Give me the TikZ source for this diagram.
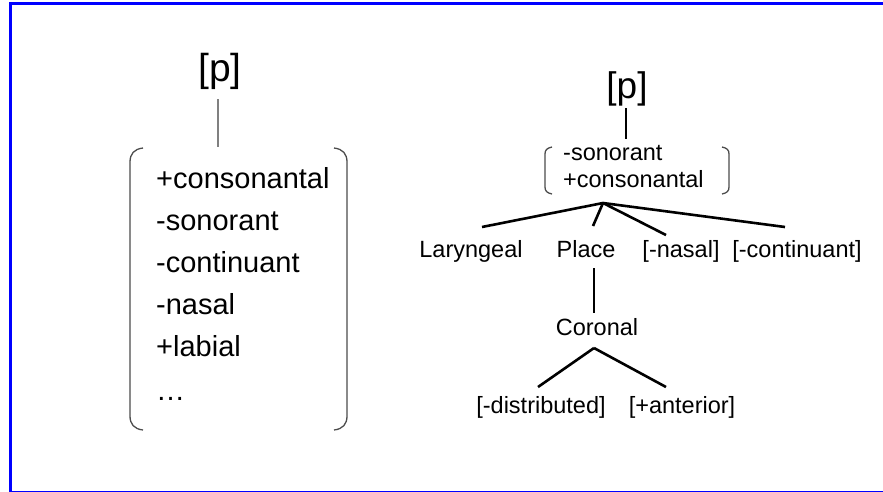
\documentclass[tikz,border=0pt]{standalone}
\usepackage{fontspec}
\setmainfont{Liberation Sans}
\begin{document}
\begin{tikzpicture}[x=1pt,y=-1pt,
  lbl/.style={inner sep=0pt, anchor=base, font=\fontsize{23.5}{26}\selectfont},
  item/.style={inner sep=0pt, anchor=base west, font=\fontsize{29}{32}\selectfont},
  br/.style={draw=black!70, line width=1.3pt},
  tline/.style={draw=black, line width=2.6pt},
  gline/.style={draw=black!50, line width=2pt}]
\useasboundingbox (0,0) rectangle (883,491);
\clip (0,0) rectangle (883,491);
\draw[blue, line width=3pt] (10,3) rectangle (890,492);

% left panel
\node[inner sep=0pt, anchor=base, font=\fontsize{39}{41}\selectfont] (lp) at (220,81) {[p]};
\coordinate (la) at (218,99);
\coordinate (lb) at (218,147);
\draw[gline] (la) -- (lb);
\draw[br] (143,148) .. controls (134,149) and (130,154) .. (130,162) -- (130,416) .. controls (130,424) and (134,429) .. (143,430);
\draw[br] (334,148) .. controls (343,149) and (347,154) .. (347,162) -- (347,416) .. controls (347,424) and (343,429) .. (334,430);
\node[item] (i1) at (156,188) {+consonantal};
\node[item] (i2) at (156,230) {-sonorant};
\node[item] (i3) at (156,272) {-continuant};
\node[item] (i4) at (156,314) {-nasal};
\node[item] (i5) at (156,356) {+labial};
\node[item] (i6) at (156,400) {\dots};

% right panel
\node[inner sep=0pt, anchor=base, font=\fontsize{37}{40}\selectfont] (rp) at (627,98) {[p]};
\coordinate (ra) at (626,108);
\coordinate (rb) at (626,139);
\draw[draw=black, line width=2pt] (ra) -- (rb);
\draw[br] (552,147) .. controls (547,148) and (545,150) .. (545,154) -- (545,187) .. controls (545,191) and (547,193) .. (552,194);
\draw[br] (722,147) .. controls (727,148) and (729,150) .. (729,154) -- (729,187) .. controls (729,191) and (727,193) .. (722,194);
\node[lbl, anchor=base west] (son) at (563,160) {-sonorant};
\node[lbl, anchor=base west] (cons) at (563,187) {+consonantal};

\coordinate (ap) at (603,203);
\coordinate (eL) at (482,227);
\coordinate (eP) at (593,226);
\coordinate (eN) at (666,235);
\coordinate (eC) at (785,227);
\draw[tline] (ap) -- (eL);
\draw[tline] (ap) -- (eP);
\draw[tline] (ap) -- (eN);
\draw[tline] (ap) -- (eC);

\node[lbl] (lar) at (471,257) {Laryngeal};
\node[lbl] (pla) at (586,257) {Place};
\node[lbl] (nas) at (681,257) {[-nasal]};
\node[lbl] (con) at (797,257) {[-continuant]};

\coordinate (pa) at (594,268);
\coordinate (pb) at (594,313);
\draw[tline] (pa) -- (pb);
\node[lbl] (cor) at (597,335) {Coronal};

\coordinate (ca) at (594,348);
\coordinate (cl) at (538,387);
\coordinate (cr) at (666,387);
\draw[tline] (ca) -- (cl);
\draw[tline] (ca) -- (cr);
\node[lbl] (dis) at (541,413) {[-distributed]};
\node[lbl] (ant) at (682,413) {[+anterior]};
\end{tikzpicture}
\end{document}
